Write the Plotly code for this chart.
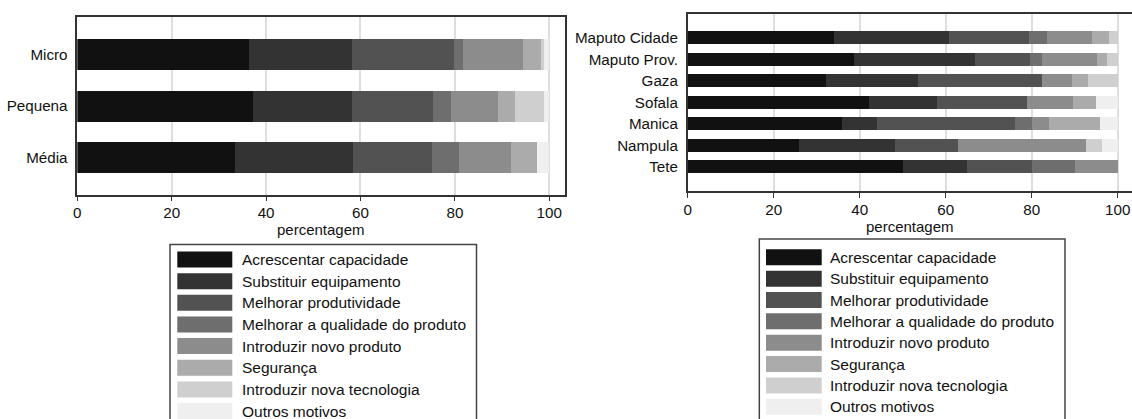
import plotly.graph_objects as go
from plotly.subplots import make_subplots

W, H = 1132, 419

# ---------------- data ----------------
series_names = [
    "Acrescentar capacidade",
    "Substituir equipamento",
    "Melhorar produtividade",
    "Melhorar a qualidade do produto",
    "Introduzir novo produto",
    "Segurança",
    "Introduzir nova tecnologia",
    "Outros motivos",
]
series_colors = ["#111111", "#333333", "#525252", "#6e6e6e",
                 "#8c8c8c", "#ababab", "#cfcfcf", "#efefef"]

size_categories = ["Micro", "Pequena", "Média"]
size_acrescentar = [36.4, 37.2, 33.4]
size_substituir = [21.8, 21.0, 25.0]
size_produtividade = [21.7, 17.2, 16.7]
size_qualidade = [1.9, 3.8, 5.8]
size_novo_produto = [12.7, 9.9, 11.0]
size_seguranca = [3.8, 3.6, 5.6]
size_nova_tecnologia = [0.6, 6.2, 0.0]
size_outros = [1.1, 1.1, 2.5]

prov_categories = ["Maputo Cidade", "Maputo Prov.", "Gaza", "Sofala",
                   "Manica", "Nampula", "Tete"]
prov_acrescentar = [34.0, 38.6, 32.2, 42.2, 35.9, 25.8, 50.0]
prov_substituir = [26.8, 28.2, 21.4, 15.7, 8.2, 22.5, 15.0]
prov_produtividade = [18.6, 12.9, 28.7, 21.1, 32.0, 14.6, 15.0]
prov_qualidade = [4.2, 2.6, 0.0, 0.0, 4.0, 0.0, 10.0]
prov_novo_produto = [10.4, 12.8, 7.1, 10.5, 4.0, 29.7, 10.0]
prov_seguranca = [4.0, 2.4, 3.6, 5.4, 11.9, 0.0, 0.0]
prov_nova_tecnologia = [2.0, 2.5, 7.0, 0.0, 0.0, 3.8, 0.0]
prov_outros = [0.0, 0.0, 0.0, 5.1, 4.0, 3.6, 0.0]

x_ticks = [0, 20, 40, 60, 80, 100]
x_title = "percentagem"

size_series = [size_acrescentar, size_substituir, size_produtividade, size_qualidade,
               size_novo_produto, size_seguranca, size_nova_tecnologia, size_outros]
prov_series = [prov_acrescentar, prov_substituir, prov_produtividade, prov_qualidade,
               prov_novo_produto, prov_seguranca, prov_nova_tecnologia, prov_outros]

FONT = "Liberation Sans, Arial, sans-serif"


def px_x(p):
    return p / W


def px_y(p):
    return 1 - p / H


fig = make_subplots(rows=1, cols=2)

for name, color, vals in zip(series_names, series_colors, size_series):
    fig.add_trace(go.Bar(y=size_categories, x=vals, orientation="h", name=name,
                         marker=dict(color=color, line=dict(width=0)),
                         showlegend=False), row=1, col=1)
for name, color, vals in zip(series_names, series_colors, prov_series):
    fig.add_trace(go.Bar(y=prov_categories, x=vals, orientation="h", name=name,
                         marker=dict(color=color, line=dict(width=0)),
                         showlegend=False), row=1, col=2)

axis_line = "#333333"
grid = "#dedede"

xcommon = dict(range=[0, 103.33], tickvals=x_ticks, showgrid=True, gridcolor=grid,
               gridwidth=1.5, showline=True, linecolor=axis_line, linewidth=1.5,
               ticks="outside", ticklen=5, tickcolor=axis_line, tickwidth=1,
               ticklabelstandoff=-1,
               tickfont=dict(family=FONT, size=15.2, color="#111111"),
               zeroline=False, automargin=False)

fig.update_layout(
    width=W, height=H,
    margin=dict(l=0, r=0, t=0, b=0),
    paper_bgcolor="white", plot_bgcolor="white",
    barmode="stack", bargap=0.4,
    font=dict(family=FONT, color="#111111"),
    xaxis=dict(domain=[px_x(77.3), px_x(565)], mirror=True, **xcommon),
    xaxis2=dict(domain=[px_x(687.7), 1.0], mirror=True, **xcommon),
    yaxis=dict(domain=[px_y(194.5), px_y(17.3)], range=[2.71, -0.72],
               showline=True, linecolor=axis_line, linewidth=1.5, mirror=True,
               ticks="", showgrid=False, zeroline=False, automargin=False,
               ticklabelstandoff=5,
               tickfont=dict(family=FONT, size=15.2, color="#111111")),
    yaxis2=dict(domain=[px_y(191), px_y(14.3)], range=[7.13, -1.1],
                showline=True, linecolor=axis_line, linewidth=1.5, mirror=False,
                ticks="", showgrid=False, zeroline=False, automargin=False,
                ticklabelstandoff=5,
                tickfont=dict(family=FONT, size=15.2, color="#111111")),
)

shapes = []
annotations = []

# axis titles
annotations.append(dict(xref="paper", yref="paper", x=px_x((77.3 + 565) / 2), y=px_y(230),
                        xanchor="center", yanchor="middle", showarrow=False, text=x_title,
                        font=dict(family=FONT, size=15, color="#111111")))
annotations.append(dict(xref="paper", yref="paper", x=px_x((687.7 + 1132) / 2), y=px_y(226.5),
                        xanchor="center", yanchor="middle", showarrow=False, text=x_title,
                        font=dict(family=FONT, size=15, color="#111111")))


# ---------------- legends (drawn boxes) ----------------
def draw_legend(box_l, box_r, box_t, sw_l, sw_r, txt_x, row0, step):
    shapes.append(dict(type="rect", xref="paper", yref="paper",
                       x0=px_x(box_l), x1=px_x(box_r), y0=px_y(430), y1=px_y(box_t),
                       line=dict(color="#444444", width=1.5), fillcolor="white"))
    for i, (name, color) in enumerate(zip(series_names, series_colors)):
        cy = row0 + i * step
        shapes.append(dict(type="rect", xref="paper", yref="paper",
                           x0=px_x(sw_l), x1=px_x(sw_r),
                           y0=px_y(cy + 8), y1=px_y(cy - 8),
                           line=dict(width=0), fillcolor=color))
        annotations.append(dict(xref="paper", yref="paper", x=px_x(txt_x), y=px_y(cy),
                                xanchor="left", yanchor="middle", showarrow=False,
                                text=name,
                                font=dict(family=FONT, size=15.5, color="#111111")))


draw_legend(170, 476.5, 244.5, 177.3, 232.3, 239.5, 259.5, 21.65)
draw_legend(759.3, 1065, 239, 766, 821.7, 828, 257.3, 21.35)

fig.update_layout(shapes=shapes, annotations=annotations)

fig.write_html(
    "out.html",
    config={"displayModeBar": False},
    post_script="document.body.style.margin='0px';document.body.style.overflow='hidden';"
                "document.documentElement.style.overflow='hidden';",
)
